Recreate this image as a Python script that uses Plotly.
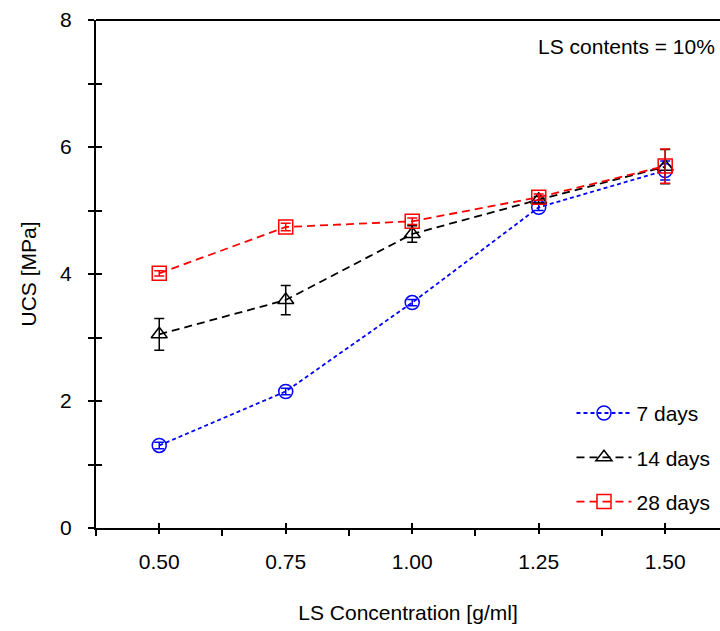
import plotly.graph_objects as go

conc = [0.50, 0.75, 1.00, 1.25, 1.50]
ucs_7 = [1.30, 2.15, 3.55, 5.05, 5.63]
err_7 = [0.05, 0.05, 0.05, 0.05, 0.15]
ucs_14 = [3.05, 3.59, 4.63, 5.17, 5.69]
err_14 = [0.25, 0.23, 0.13, 0.05, 0.27]
ucs_28 = [4.01, 4.74, 4.83, 5.21, 5.70]
err_28 = [0.04, 0.06, 0.05, 0.05, 0.27]
series_names = ["7 days", "14 days", "28 days"]
tick_vals = [0.50, 0.75, 1.00, 1.25, 1.50]
tick_text = ["0.50", "0.75", "1.00", "1.25", "1.50"]

FONT = "Liberation Sans, Arial, sans-serif"
XR = [0.375, 1.6083]
YR = [0, 8]

fig = go.Figure()
specs = [
    (ucs_7, err_7, "blue", "circle-open", "4px,3px"),
    (ucs_14, err_14, "black", "triangle-up-open", "8px,5px"),
    (ucs_28, err_28, "red", "square-open", "8px,5px"),
]
for i, (ys, es, col, sym, dash) in enumerate(specs):
    fig.add_trace(go.Scatter(
        x=conc, y=ys, name=series_names[i], mode="lines+markers",
        legendgroup=f"g{i}",
        line=dict(color=col, width=1.8, dash=dash),
        marker=dict(symbol=sym, size=14, color=col, line=dict(color=col, width=1.5)),
        error_y=dict(type="data", array=es, color=col, thickness=1.5, width=5),
    ))

# dummy trace for overlay axes (inside ticks)
fig.add_trace(go.Scatter(x=[], y=[], xaxis="x2", yaxis="y2", showlegend=False, hoverinfo="skip"))

axfont = dict(family=FONT, size=21, color="black")
fig.update_layout(
    width=720, height=631,
    margin=dict(l=96, r=0, t=20, b=103),
    paper_bgcolor="white", plot_bgcolor="white",
    font=axfont,
    showlegend=True,
    legend=dict(x=0.762, y=0.266, xanchor="left", yanchor="top",
                bgcolor="rgba(0,0,0,0)", tracegroupgap=14, itemwidth=55,
                font=dict(family=FONT, size=21, color="black")),
    xaxis=dict(range=XR, showgrid=False, zeroline=False, showline=True,
               linecolor="black", linewidth=2,
               tickmode="array", tickvals=tick_vals, ticktext=tick_text,
               ticks="outside", ticklen=4, tickwidth=2, tickcolor="black",
               ticklabelstandoff=10,
               minor=dict(tickmode="array", tickvals=[0.375, 0.625, 0.875, 1.125, 1.375, 1.625],
                          ticks="outside", ticklen=6, tickwidth=2, tickcolor="black", showgrid=False),
               title=dict(text="LS Concentration [g/ml]", font=axfont, standoff=33)),
    yaxis=dict(range=YR, showgrid=False, zeroline=False, showline=True,
               linecolor="black", linewidth=2,
               tickmode="array", tickvals=[0, 2, 4, 6, 8],
               ticks="outside", ticklen=6, tickwidth=2, tickcolor="black",
               ticklabelstandoff=12,
               minor=dict(tickmode="array", tickvals=[1, 3, 5, 7],
                          ticks="outside", ticklen=6, tickwidth=2, tickcolor="black", showgrid=False),
               title=dict(text="UCS [MPa]", font=axfont, standoff=18)),
    xaxis2=dict(range=XR, overlaying="x", anchor="y2", side="bottom", showgrid=False,
                zeroline=False, showline=False, showticklabels=False,
                tickmode="array", tickvals=tick_vals,
                ticks="inside", ticklen=5, tickwidth=2, tickcolor="black"),
    yaxis2=dict(range=YR, overlaying="y", anchor="x2", side="left", showgrid=False,
                zeroline=False, showline=False, showticklabels=False,
                tickmode="array", tickvals=[0, 1, 2, 3, 4, 5, 6, 7, 8],
                ticks="inside", ticklen=6, tickwidth=2, tickcolor="black"),
    shapes=[dict(type="line", xref="paper", yref="paper", x0=0, x1=1, y0=1, y1=1,
                 line=dict(color="black", width=2))],
    annotations=[dict(text="LS contents = 10%", xref="paper", yref="paper",
                      x=(536 - 96) / 624, y=0.948, xanchor="left", yanchor="middle",
                      showarrow=False, font=dict(family=FONT, size=21, color="black"))],
)

fig.write_html("out.html")
